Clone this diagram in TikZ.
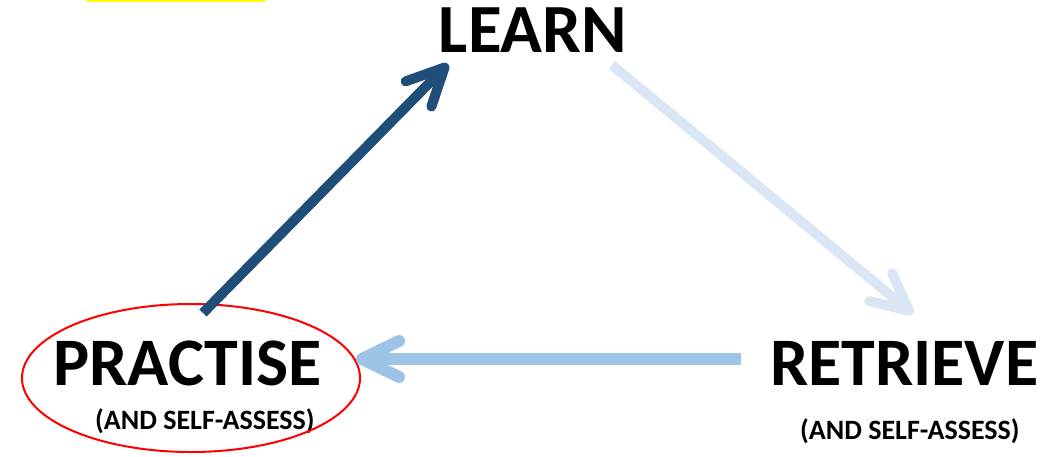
\documentclass[tikz,border=0pt]{standalone}
\usepackage{fontspec}
\setmainfont{Carlito}
\usetikzlibrary{arrows.meta}
\definecolor{deepblue}{HTML}{1F4E79}
\definecolor{paleblue}{HTML}{DAE6F3}
\definecolor{midblue}{HTML}{9DC3E6}
\definecolor{marker}{HTML}{FFFF00}
\begin{document}
\begin{tikzpicture}[x=1pt,y=-1pt,
  stage/.style={font=\bfseries\fontsize{68}{68}\selectfont, inner sep=0pt},
  note/.style={font=\bfseries\fontsize{28}{28}\selectfont, inner sep=0pt},
  cycle/.style={line width=10pt,
    -{Straight Barb[length=37pt,width=36pt,line cap=round,line join=round]}},
]
\useasboundingbox (0,0) rectangle (1053,456);

% highlight strip along the top edge
\fill[marker] (87,0) rectangle (265,2);

% stage labels
\node[stage, font=\bfseries\fontsize{69}{69}\selectfont, anchor=base] (learn) at (533,52) {LEARN};
\node[stage, anchor=base west] (practise) at (53,385) {PRACTISE};
\node[note, anchor=base west] (practisenote) at (95,429) {(AND SELF-ASSESS)};
\node[stage, anchor=base west] (retrieve) at (770,385) {RETRIEVE};
\node[note, anchor=base west] (retrievenote) at (800,439) {(AND SELF-ASSESS)};

% red ring around the practise stage
\draw[red, line width=2pt] (191,378) ellipse [x radius=169, y radius=74];

% arrow end points
\coordinate (pOut) at (203,313);
\coordinate (lIn) at (448,64);
\coordinate (lOut) at (612,65);
\coordinate (rIn) at (913,314);
\coordinate (rOut) at (741,359);
\coordinate (pIn) at (356,359);

% cycle arrows
\draw[cycle, deepblue] (pOut) -- (lIn);
\draw[cycle, paleblue] (lOut) -- (rIn);
\draw[cycle, midblue, line width=12pt] (rOut) -- (pIn);
\end{tikzpicture}
\end{document}
